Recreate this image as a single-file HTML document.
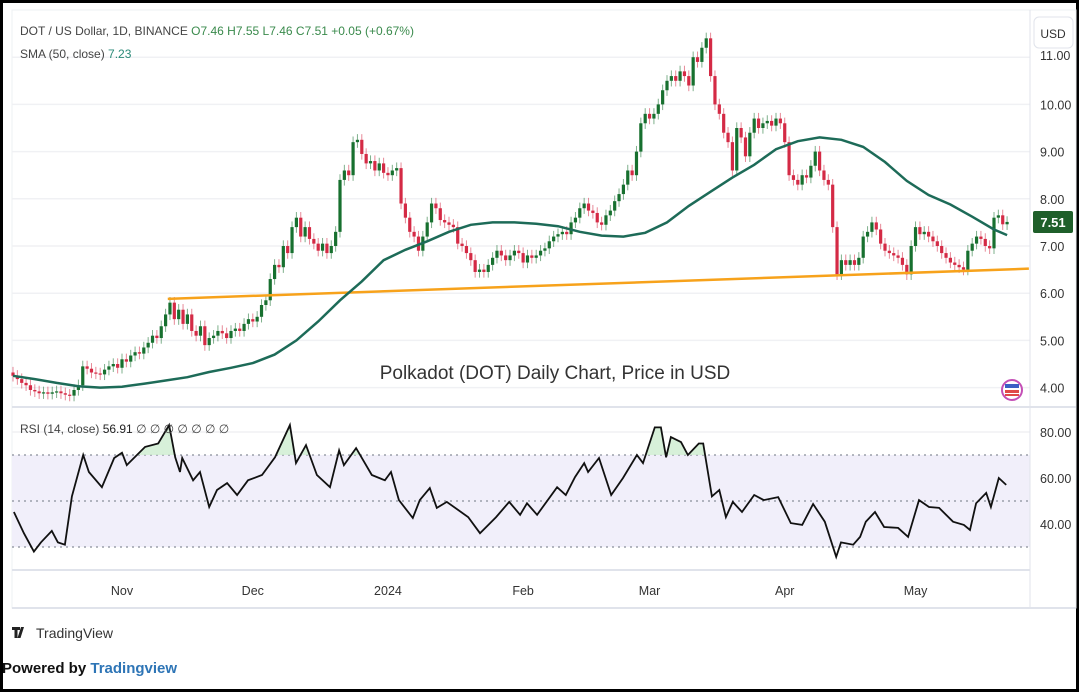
<!DOCTYPE html>
<html><head><meta charset="utf-8"><style>
html,body{margin:0;padding:0;background:#fff}
#wrap{position:relative;width:1079px;height:692px;overflow:hidden;font-family:"Liberation Sans",sans-serif}
svg text{font-family:"Liberation Sans",sans-serif}
</style></head><body>
<div id="wrap">
<svg id="chart" width="1079" height="692" viewBox="0 0 1079 692">
  <rect x="0" y="0" width="1079" height="692" fill="#fff"/>
  <rect x="1.5" y="1.5" width="1076" height="689" fill="none" stroke="#000" stroke-width="3"/>
  <rect x="12" y="10" width="1064" height="598" fill="none" stroke="#eef0f3" stroke-width="1"/>
  <g id="grid"></g>
  <rect id="rsiBand" fill="#f1effa"/>
  <g id="rsiDots"></g>
  <line x1="12" y1="407" x2="1076" y2="407" stroke="#e0e3eb" stroke-width="2"/>
  <line x1="12" y1="570" x2="1030" y2="570" stroke="#e0e3eb" stroke-width="2"/>
  <line x1="12" y1="608" x2="1076" y2="608" stroke="#e0e3eb" stroke-width="2"/>
  <line x1="1030" y1="10" x2="1030" y2="608" stroke="#e0e3eb" stroke-width="1"/>
  <g id="candles"></g>
  <path id="trend" fill="none" stroke="#f7a21b" stroke-width="2.5"/>
  <path id="sma" fill="none" stroke="#1d6b58" stroke-width="2.5"/>
  <clipPath id="ob"><rect x="0" y="0" width="1079" height="0" id="obRect"/></clipPath>
  <path id="rsiFill" fill="#cdeccf" opacity="0.8" clip-path="url(#ob)"/>
  <path id="rsiLine" fill="none" stroke="#111" stroke-width="1.8"/>
  <g id="axisLabels"></g>

  <text x="20" y="35" font-size="12" fill="#444">DOT / US Dollar, 1D, BINANCE <tspan fill="#3a8a4c">O7.46  H7.55  L7.46  C7.51  +0.05 (+0.67%)</tspan></text>
  <text x="20" y="58" font-size="12" fill="#444">SMA (50, close) <tspan fill="#2a8a78">7.23</tspan></text>
  <text x="20" y="433" font-size="12" fill="#444">RSI (14, close) <tspan fill="#222">56.91</tspan>  ∅  ∅  ∅  ∅  ∅  ∅  ∅</text>

  <rect x="1034" y="17" width="39" height="31" rx="5" fill="#fff" stroke="#e0e3eb"/>
  <text x="1053" y="38" font-size="12" fill="#333" text-anchor="middle">USD</text>
  <rect x="1033" y="211" width="40" height="22" rx="2" fill="#1f5f2a"/>
  <text x="1053" y="227" font-size="13" fill="#fff" font-weight="bold" text-anchor="middle">7.51</text>

  <text x="555" y="379" font-size="19" fill="#333" text-anchor="middle">Polkadot (DOT) Daily Chart, Price in USD</text>

  <g>
    <circle cx="1012" cy="390" r="10" fill="#fff" stroke="#c44fb6" stroke-width="2"/>
    <rect x="1005" y="384" width="14" height="4" fill="#3b5fc4"/>
    <rect x="1005" y="390" width="14" height="3" fill="#e04848"/>
    <rect x="1005" y="394" width="14" height="2" fill="#e04848"/>
  </g>

  <g>
    <path d="M12 627h8v3h-2.5v8h-3v-8h-2.5z M21 627h3l-3.5 11h-3z" fill="#222"/>
    <text x="36" y="638" font-size="14" fill="#333">TradingView</text>
  </g>
  <text x="2" y="673" font-size="15" font-weight="bold" fill="#111">Powered by <tspan fill="#2e75b6">Tradingview</tspan></text>
</svg>
</div>
<script>
// ---- data ----
const startDay = -25; // Oct 7, 2023 relative to Nov 1
const closes = [
4.25,4.18,4.10,4.05,3.95,3.92,3.88,3.90,3.87,3.90,
3.92,3.88,3.85,3.83,3.95,4.05,4.45,4.40,4.32,4.30,
4.28,4.38,4.45,4.50,4.42,4.60,4.55,4.68,4.75,4.72,
4.85,4.95,5.10,5.05,5.30,5.55,5.80,5.45,5.65,5.35,
5.55,5.20,5.10,5.30,4.90,5.05,5.10,5.20,5.15,5.05,
5.20,5.25,5.20,5.35,5.45,5.40,5.50,5.75,5.85,6.30,
6.60,6.55,7.00,6.85,7.40,7.60,7.20,7.40,7.15,7.05,
6.90,7.05,6.85,7.00,7.30,8.40,8.60,8.50,9.20,9.25,
8.95,8.75,8.80,8.60,8.75,8.55,8.50,8.60,8.65,7.90,
7.60,7.30,7.20,6.90,7.20,7.50,7.90,7.80,7.55,7.50,
7.45,7.40,7.05,7.00,6.85,6.70,6.45,6.50,6.45,6.60,
6.75,6.90,6.80,6.70,6.80,6.90,6.85,6.65,6.80,6.75,
6.80,6.90,6.95,7.10,7.20,7.25,7.30,7.25,7.50,7.60,
7.80,7.90,7.75,7.70,7.50,7.45,7.65,7.75,7.95,8.10,
8.30,8.60,8.50,9.00,9.60,9.80,9.70,9.80,10.00,10.30,
10.50,10.60,10.50,10.70,10.60,10.40,11.00,10.90,11.20,11.40,
10.60,10.00,9.80,9.40,9.20,8.60,9.50,9.30,8.90,9.40,
9.70,9.50,9.60,9.65,9.55,9.70,9.60,9.20,8.50,8.40,
8.30,8.50,8.45,8.70,9.00,8.60,8.40,8.30,7.40,6.40,
6.70,6.60,6.70,6.60,6.75,7.20,7.30,7.50,7.35,7.05,
6.90,6.85,6.80,6.75,6.60,6.40,7.00,7.40,7.25,7.30,
7.20,7.10,7.00,6.85,6.75,6.65,6.60,6.55,6.50,6.90,
7.05,7.20,7.15,7.00,6.95,7.60,7.65,7.46,7.51];
const firstOpen = 4.32;
const smaStep = 5;
const smaValues = [4.25,4.18,4.10,4.03,4.00,4.02,4.08,4.15,4.22,4.33,4.42,4.52,4.70,5.00,5.40,5.85,6.25,6.70,6.92,7.10,7.30,7.45,7.50,7.50,7.47,7.42,7.30,7.22,7.20,7.28,7.50,7.85,8.15,8.45,8.72,9.05,9.22,9.30,9.25,9.10,8.78,8.38,8.08,7.88,7.62,7.35,7.23];
const smaLastDay = 203;
const trendDays = [10.5, 208];
const trendPrices = [5.88, 6.52];
const rsiDays = [-24.8,-22.5,-20.2,-18.6,-16.1,-14.7,-13.1,-11.5,-8.9,-7.6,-4.6,-1.8,0,1.1,5.3,8.3,10.8,12.2,13.3,13.8,16.3,17.9,20,21.8,24.1,26.4,28.9,32.1,35.1,38.5,39.9,42.2,44.7,47.7,49.8,50.9,53.7,57.3,60.3,61.7,63.5,66.7,68.3,70.6,72.2,74.5,79.4,82.1,85.8,88.8,91.3,92.9,95.2,99.8,101.8,103.9,106,106.9,109.4,112.2,114.9,118.1,119.5,122.2,123.6,124.8,125.9,128.2,129.8,132.3,133.3,135.3,137,138.5,140.1,142.2,145,147.2,150.5,153.4,156,158.5,161.2,163.8,164.9,167.7,169.3,170.6,172.7,174.8,178,180.3,182.8,185.1,187.4,190.6,193.1,194.5,195.9,198.2,199.3,201.1,202.8];
const rsiValues = [45.2,36,28,32,37,32,31,52,70,62.6,56,68.7,71,65.6,73.5,75,83,69,62.6,68.7,59,62.6,47.4,54.8,57.8,52.6,59,61.3,69,83,66.5,74.3,61.3,56,72,65.6,73,61.3,59,62.6,50.4,42.6,50.4,55.6,47,49.6,43,36,43,49.6,44,49,44,56,52.6,60.4,66.5,62.6,68.7,52.6,60,70,66.5,82,82,69,77.8,75.6,70,75,75,52,54.8,43,49.6,45.2,52.6,50.4,51.7,40.4,39.6,48.7,41,25.7,32,31,34.4,41,45.2,38.7,38.3,34.4,50.4,47.4,47,41,39.6,37.4,49,53.5,47.4,60,57];
const priceTicks = [4,5,6,7,8,9,10,11];
const rsiTicks = [40,60,80];
const rsiLevels = [30,50,70];
const monthLabels = ["Nov","Dec","2024","Feb","Mar","Apr","May"];
const monthDays = [0,30,61,92,121,152,182];

// ---- scales ----
const X = d => 122 + d * 4.36;
const YP = p => 246 - (p - 7) * 47.2;
const YR = r => 478 - (r - 60) * 2.3;
const NS = "http://www.w3.org/2000/svg";
function mk(tag, attrs, parent){const e=document.createElementNS(NS,tag);for(const k in attrs)e.setAttribute(k,attrs[k]);parent.appendChild(e);return e;}

const grid=document.getElementById('grid'), axis=document.getElementById('axisLabels');
priceTicks.forEach(p=>{
  const l=mk('line',{x1:12,x2:1030,y1:YP(p),y2:YP(p),stroke:'#f0f1f4','stroke-width':1.5},grid);
  
  
  if(p===11) return;
  const t=mk('text',{x:1040,y:YP(p)+5,'font-size':12.5,fill:'#333'},axis);
  t.textContent=p.toFixed(2);
  
  
});
{ const t=mk('text',{x:1040,y:YP(11)+3,'font-size':12.5,fill:'#333'},axis); t.textContent='11.00';
  
   }
rsiTicks.forEach(r=>{
  const l=mk('line',{x1:12,x2:1030,y1:YR(r),y2:YR(r),stroke:'#f0f1f4','stroke-width':1.5},grid);
  
  
  const t=mk('text',{x:1040,y:YR(r)+5,'font-size':12.5,fill:'#333'},axis);
  t.textContent=r.toFixed(2);
  
  
});
monthLabels.forEach((m,i)=>{
  const t=mk('text',{x:X(monthDays[i]),y:595,'font-size':12.5,fill:'#333','text-anchor':'middle'},axis);
  t.textContent=m;
  
  
});
const band=document.getElementById('rsiBand');
band.setAttribute('x',12);band.setAttribute('width',1018);
band.setAttribute('y',YR(70));band.setAttribute('height',YR(30)-YR(70));
const dots=document.getElementById('rsiDots');
rsiLevels.forEach(r=>{
  const l=mk('line',{x1:12,x2:1030,y1:YR(r),y2:YR(r),stroke:'#8a8f9a','stroke-width':1.3,'stroke-dasharray':'2 4'},dots);
  
  
});

const cg=document.getElementById('candles');
closes.forEach((c,i)=>{
  const o = i===0 ? firstOpen : closes[i-1];
  const up = c>=o, col = up ? '#17702f' : '#d42a45';
  const x = X(startDay+i);
  const hi = Math.max(o,c)+0.12, lo = Math.min(o,c)-0.12;
  const w=mk('line',{x1:x,x2:x,y1:YP(hi),y2:YP(lo),stroke:col,'stroke-width':1,opacity:0.55},cg);
  
  
  const top=YP(Math.max(o,c)), h=Math.max(1.2,Math.abs(YP(o)-YP(c)));
  const b=mk('rect',{x:x-1.6,y:top,width:3.2,height:h,fill:col},cg);
  
  
});

let sd='';
smaValues.forEach((v,i)=>{const d=Math.min(startDay+i*smaStep,smaLastDay);sd+=(i?'L':'M')+X(d).toFixed(1)+' '+YP(v).toFixed(1);});
document.getElementById('sma').setAttribute('d',sd);
document.getElementById('trend').setAttribute('d','M'+X(trendDays[0])+' '+YP(trendPrices[0])+'L'+X(trendDays[1])+' '+YP(trendPrices[1]));
let rd='';
rsiValues.forEach((v,i)=>{rd+=(i?'L':'M')+X(rsiDays[i]).toFixed(1)+' '+YR(v).toFixed(1);});
document.getElementById('rsiLine').setAttribute('d',rd);
const y70=YR(70);
document.getElementById('rsiFill').setAttribute('d',rd+'L'+X(rsiDays[rsiDays.length-1])+' '+y70+'L'+X(rsiDays[0])+' '+y70+'Z');
document.getElementById('obRect').setAttribute('height',y70);
</script>
</body></html>
